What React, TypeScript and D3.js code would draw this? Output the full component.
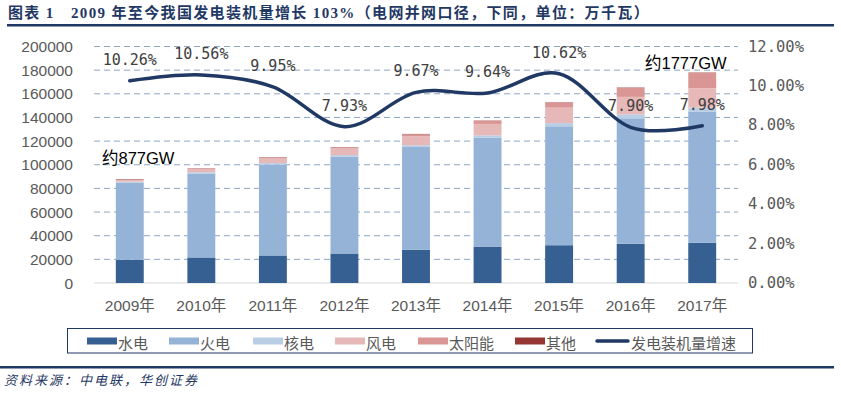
import * as React from "react";
import * as d3 from "d3";

const years = ["2009年", "2010年", "2011年", "2012年", "2013年", "2014年", "2015年", "2016年", "2017年"];
const hydro = [19629, 21606, 23298, 24947, 28044, 30486, 31954, 33207, 34119];
const thermal = [65108, 70967, 76834, 81968, 87009, 92363, 100554, 106094, 110604];
const nuclear = [908, 1082, 1257, 1257, 1466, 2008, 2717, 3364, 3582];
const wind = [1760, 2958, 4623, 6142, 7652, 9657, 13075, 14747, 16367];
const solar = [3, 26, 212, 341, 1589, 2486, 4218, 7631, 13025];
const other = [400, 300, 300, 300, 300, 300, 300, 300, 300];
const growth = [10.26, 10.56, 9.95, 7.93, 9.67, 9.64, 10.62, 7.9, 7.98];
const leftTicks = [0, 20000, 40000, 60000, 80000, 100000, 120000, 140000, 160000, 180000, 200000];
const rightTicks = [0, 2, 4, 6, 8, 10, 12];

const seriesNames = ["水电", "火电", "核电", "风电", "太阳能", "其他"];
const seriesColors = ["#376092", "#95b3d7", "#b9cde5", "#e6b9b8", "#d99694", "#953735"];
const lineName = "发电装机量增速";
const lineColor = "#1f3864";

function drawChart(svgEl: SVGSVGElement) {
  const svg = d3.select(svgEl);
  svg.selectAll("*").remove();

  const navy = "#1f3864";
  const sans = "'Liberation Sans', 'Noto Sans CJK SC', sans-serif";
  const mono = "'DejaVu Sans Mono', 'Noto Sans CJK SC', monospace";

  const x = d3.scaleBand<string>().domain(years).range([94, 738]).paddingInner(0.61).paddingOuter(0.305);
  const yL = d3.scaleLinear().domain([0, 200000]).range([283, 46.5]);
  const yR = d3.scaleLinear().domain([0, 12]).range([283, 46.5]);

  // title + rules
  svg.append("text")
    .attr("x", 8).attr("y", 18)
    .attr("font-family", "'Liberation Serif', 'Noto Sans CJK SC', serif")
    .attr("font-weight", "bold").attr("font-size", 15)
    .attr("letter-spacing", 1.35)
    .attr("fill", navy)
    .text("图表 1　2009 年至今我国发电装机量增长 103%（电网并网口径，下同，单位：万千瓦）");
  svg.append("rect").attr("x", 7).attr("y", 24).attr("width", 827).attr("height", 2.5).attr("fill", navy);
  svg.append("rect").attr("x", 0).attr("y", 366).attr("width", 834).attr("height", 2.5).attr("fill", navy);
  svg.append("text")
    .attr("x", 4).attr("y", 385)
    .attr("font-family", "'Noto Sans CJK SC', sans-serif")
    .attr("font-style", "italic").attr("font-size", 13)
    .attr("letter-spacing", 2)
    .attr("fill", navy)
    .text("资料来源：中电联，华创证券");

  // grid
  svg.append("g").selectAll("line")
    .data(leftTicks.slice(1))
    .join("line")
    .attr("x1", 94).attr("x2", 738)
    .attr("y1", (d) => yL(d)).attr("y2", (d) => yL(d))
    .attr("stroke", "#8ea6c4").attr("stroke-width", 1).attr("stroke-dasharray", "6,4");
  svg.append("line")
    .attr("x1", 94).attr("x2", 738).attr("y1", yL(0)).attr("y2", yL(0))
    .attr("stroke", "#d9d9d9").attr("stroke-width", 1);

  // axes labels
  svg.append("g").selectAll("text")
    .data(leftTicks)
    .join("text")
    .attr("x", 73).attr("y", (d) => yL(d))
    .attr("text-anchor", "end").attr("dominant-baseline", "central")
    .attr("font-family", sans).attr("font-size", 15.5).attr("fill", "#595959")
    .text((d) => String(d));
  svg.append("g").selectAll("text")
    .data(rightTicks)
    .join("text")
    .attr("x", 748).attr("y", (d) => yR(d))
    .attr("dominant-baseline", "central")
    .attr("font-family", mono).attr("font-size", 15.5).attr("fill", "#595959")
    .text((d) => d.toFixed(2) + "%");
  svg.append("g").selectAll("text")
    .data(years)
    .join("text")
    .attr("x", (d) => x(d)! + x.bandwidth() / 2).attr("y", 305)
    .attr("text-anchor", "middle").attr("dominant-baseline", "central")
    .attr("font-family", sans).attr("font-size", 15.5).attr("fill", "#595959")
    .text((d) => d);

  // stacked bars
  const rows = years.map((yr, i) => ({
    year: yr, s0: hydro[i], s1: thermal[i], s2: nuclear[i], s3: wind[i], s4: solar[i], s5: other[i],
  }));
  const stack = d3.stack<any>().keys(["s0", "s1", "s2", "s3", "s4", "s5"]);
  const layers = stack(rows);
  svg.append("g").selectAll("g")
    .data(layers)
    .join("g")
    .attr("fill", (_, i) => seriesColors[i])
    .selectAll("rect")
    .data((d) => d)
    .join("rect")
    .attr("x", (d) => x(d.data.year)!)
    .attr("width", x.bandwidth())
    .attr("y", (d) => yL(d[1]))
    .attr("height", (d) => yL(d[0]) - yL(d[1]));

  // growth line
  const cx = (i: number) => x(years[i])! + x.bandwidth() / 2;
  const line = d3.line<number>()
    .x((_, i) => cx(i))
    .y((d) => yR(d))
    .curve(d3.curveCardinal.tension(0));
  svg.append("path")
    .attr("d", line(growth))
    .attr("fill", "none").attr("stroke", lineColor).attr("stroke-width", 3.5)
    .attr("stroke-linecap", "round");
  svg.append("g").selectAll("text")
    .data(growth)
    .join("text")
    .attr("x", (_, i) => cx(i)).attr("y", (d) => yR(d) - 21)
    .attr("text-anchor", "middle").attr("dominant-baseline", "central")
    .attr("font-family", mono).attr("font-size", 15).attr("fill", "#404040")
    .text((d) => d.toFixed(2) + "%");

  // annotations
  svg.append("text")
    .attr("x", 102).attr("y", 158).attr("dominant-baseline", "central")
    .attr("font-family", sans).attr("font-size", 16.5).attr("fill", "#000")
    .text("约877GW");
  svg.append("text")
    .attr("x", 645).attr("y", 63).attr("dominant-baseline", "central")
    .attr("font-family", sans).attr("font-size", 16.5).attr("fill", "#000")
    .text("约1777GW");

  // legend
  svg.append("rect")
    .attr("x", 67.5).attr("y", 328.5).attr("width", 685).attr("height", 24.5)
    .attr("fill", "#fff").attr("stroke", navy).attr("stroke-width", 1);
  const legendX = [87, 169, 253, 335, 418, 515, 596];
  const legendItems = [...seriesNames, lineName];
  const lg = svg.append("g").selectAll("g")
    .data(legendItems)
    .join("g")
    .attr("transform", (_, i) => `translate(${legendX[i]},341)`);
  lg.each(function (d, i) {
    const g = d3.select(this);
    if (i < seriesNames.length) {
      g.append("rect").attr("x", 0).attr("y", -3.5).attr("width", 30).attr("height", 7).attr("fill", seriesColors[i]);
    } else {
      g.append("line").attr("x1", 1).attr("x2", 32).attr("y1", 0).attr("y2", 0)
        .attr("stroke", lineColor).attr("stroke-width", 3.5).attr("stroke-linecap", "round");
    }
    g.append("text")
      .attr("x", i < seriesNames.length ? 31 : 35).attr("y", 1)
      .attr("dominant-baseline", "central")
      .attr("font-family", "'Noto Sans CJK SC', sans-serif").attr("font-size", 15)
      .attr("fill", "#595959")
      .text(d);
  });
}

const App: React.FunctionComponent = () => {
  const svg = React.useRef<SVGSVGElement>(null);
  React.useEffect(() => {
    document.body.style.margin = "0";
    if (svg.current) drawChart(svg.current);
  }, []);
  return (
    <div id="chart">
      <svg ref={svg} width={841} height={394} style={{ display: "block", background: "#fff" }} />
    </div>
  );
};

export default App;
